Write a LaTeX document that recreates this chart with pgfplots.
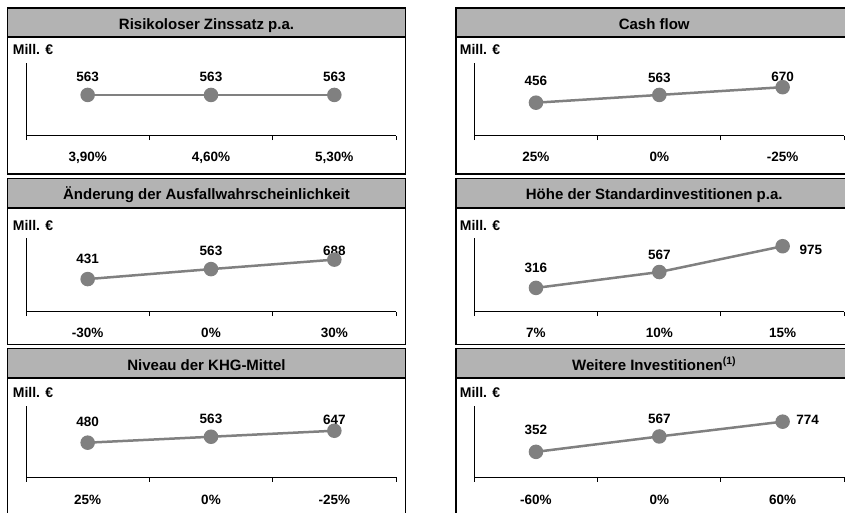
\documentclass[border=0pt]{standalone}
\usepackage{fontspec}
\setmainfont{Liberation Sans}
\usepackage{pgfplots}
\pgfplotsset{compat=1.18}
\definecolor{barfill}{RGB}{179,179,179}
\definecolor{ptgray}{RGB}{128,128,128}
\newcommand\tfont{\fontsize{15}{18}\selectfont\bfseries}
\newcommand\lfont{\fontsize{13.5}{16}\selectfont\bfseries}
\pgfplotsset{
  panel/.style={
    scale only axis, width=370pt,
    xmin=-0.5, xmax=2.5, ymin=0, ymax=1000,
    axis x line=bottom, axis y line=left,
    axis line style={-, line width=1pt, black},
    xtick={0,1,2}, major tick length=0pt,
    minor xtick={-0.5,0.5,1.5,2.5}, minor tick length=4.5pt,
    tick align=outside, minor tick style={line width=1pt, black},
    ytick=\empty,
    xticklabel style={anchor=base, font=\lfont},
    clip=false,
  },
  series/.style={color=ptgray, line width=2.5pt, mark=*, mark size=6pt,
    mark options={fill=ptgray, draw=none}},
}
\tikzset{dl/.style={anchor=base, font=\lfont, inner sep=0pt}}
\begin{document}
\begin{tikzpicture}[x=1pt,y=1pt]
\useasboundingbox (0,0) rectangle (845,512);
\clip (0,0) rectangle (845,512);
% frames and title bars
\foreach \xl/\xr in {7.5/405.5, 456/860} {
  \foreach \yt/\yb/\ytb in {504/338/474.7, 333.3/167.3/303.7, 163.3/-10/133.7} {
    \fill[barfill] (\xl,\yt) rectangle (\xr,\ytb);
    \draw[line width=1.3pt] (\xl,\yb) rectangle (\xr,\yt);
    \draw[line width=2pt] (\xl,\ytb) -- (\xr,\ytb);
  }
}
% titles
\node[anchor=base, font=\tfont, inner sep=0pt] at (206.5,482.7) {Risikoloser Zinssatz p.a.};
\node[anchor=base, font=\tfont, inner sep=0pt] at (654.2,482.7) {Cash flow};
\node[anchor=base, font=\tfont, inner sep=0pt] at (206.5,312) {Änderung der Ausfallwahrscheinlichkeit};
\node[anchor=base, font=\tfont, inner sep=0pt] at (654.2,312) {Höhe der Standardinvestitionen p.a.};
\node[anchor=base, font=\tfont, inner sep=0pt] at (206.5,142) {Niveau der KHG-Mittel};
\node[anchor=base, font=\tfont, inner sep=0pt] at (654.2,142) {Weitere Investitionen\textsuperscript{(1)}};
% unit labels
\foreach \ux in {12.7, 459.7} {
  \foreach \uy in {457, 282, 114.7} {
    \node[anchor=base west, inner sep=0pt, font=\fontsize{14}{16}\selectfont\bfseries] at (\ux,\uy) {Mill. €};
  }
}
% Row 1 left
\begin{axis}[panel, at={(26pt,376.3pt)}, anchor=south west, height=72.4pt,
  xticklabels={{3,90\%},{4,60\%},{5,30\%}}, xticklabel style={yshift=-26pt}]
\addplot[series] coordinates {(0,563) (1,563) (2,563)};
\node[dl, yshift=13.2pt] at (axis cs:0,563) {563};
\node[dl, yshift=13.2pt] at (axis cs:1,563) {563};
\node[dl, yshift=13.2pt] at (axis cs:2,563) {563};
\end{axis}
% Row 1 right
\begin{axis}[panel, at={(474.3pt,376.3pt)}, anchor=south west, height=72.4pt,
  xticklabels={{25\%},{0\%},{-25\%}}, xticklabel style={yshift=-26pt}]
\addplot[series] coordinates {(0,456) (1,563) (2,670)};
\node[dl, yshift=16.8pt] at (axis cs:0,456) {456};
\node[dl, yshift=12.9pt] at (axis cs:1,563) {563};
\node[dl, yshift=5.2pt] at (axis cs:2,670) {670};
\end{axis}
% Row 2 left
\begin{axis}[panel, at={(26pt,200.3pt)}, anchor=south west, height=73.4pt, ymax=970,
  xticklabels={{-30\%},{0\%},{30\%}}, xticklabel style={yshift=-25.6pt}]
\addplot[series] coordinates {(0,431) (1,563) (2,688)};
\node[dl, yshift=15.9pt] at (axis cs:0,431) {431};
\node[dl, yshift=13.2pt] at (axis cs:1,563) {563};
\node[dl, yshift=4.2pt] at (axis cs:2,688) {688};
\end{axis}
% Row 2 right
\begin{axis}[panel, at={(474.3pt,200.3pt)}, anchor=south west, height=73.4pt, ymin=-60, ymax=1100,
  xticklabels={{7\%},{10\%},{15\%}}, xticklabel style={yshift=-25.6pt}]
\addplot[series] coordinates {(0,316) (1,567) (2,975)};
\node[dl, yshift=15.8pt] at (axis cs:0,316) {316};
\node[dl, yshift=12.8pt] at (axis cs:1,567) {567};
\node[dl, yshift=-8.2pt, xshift=28.3pt] at (axis cs:2,975) {975};
\end{axis}
% Row 3 left
\begin{axis}[panel, at={(26pt,35pt)}, anchor=south west, height=71.5pt,
  xticklabels={{25\%},{0\%},{-25\%}}, xticklabel style={yshift=-27.3pt}]
\addplot[series] coordinates {(0,480) (1,563) (2,647)};
\node[dl, yshift=16.2pt] at (axis cs:0,480) {480};
\node[dl, yshift=12.9pt] at (axis cs:1,563) {563};
\node[dl, yshift=6.2pt] at (axis cs:2,647) {647};
\end{axis}
% Row 3 right
\begin{axis}[panel, at={(474.3pt,35pt)}, anchor=south west, height=71.5pt,
  xticklabels={{-60\%},{0\%},{60\%}}, xticklabel style={yshift=-27.3pt}]
\addplot[series] coordinates {(0,352) (1,567) (2,774)};
\node[dl, yshift=16.9pt] at (axis cs:0,352) {352};
\node[dl, yshift=12.9pt] at (axis cs:1,567) {567};
\node[dl, yshift=-2.5pt, xshift=25pt] at (axis cs:2,774) {774};
\end{axis}
\end{tikzpicture}
\end{document}
